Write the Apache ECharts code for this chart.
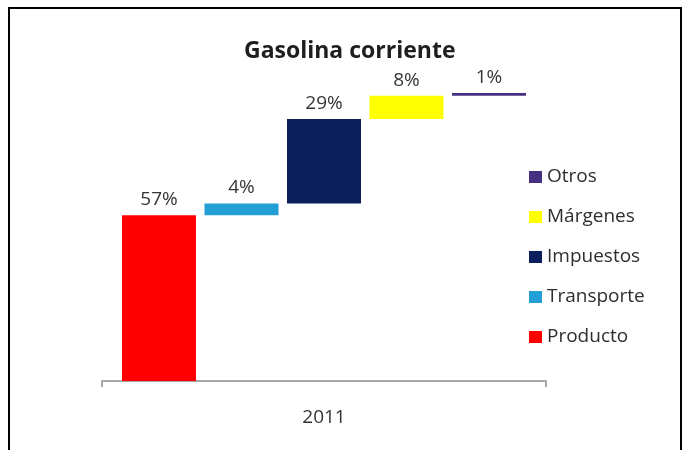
<!DOCTYPE html>
<html>
<head>
<meta charset="utf-8">
<title>Gasolina corriente</title>
<script src="https://cdn.jsdelivr.net/npm/echarts@6/dist/echarts.min.js"></script>
<style>
  html, body { margin: 0; padding: 0; background: #ffffff; }
  #chart { width: 689px; height: 450px; }
</style>
</head>
<body>
<div id="chart"></div>
<script>
// Price breakdown of regular gasoline (2011), drawn as a floating waterfall.
const categories = ['2011'];
const componentNames = ['Producto', 'Transporte', 'Impuestos', 'Márgenes', 'Otros'];
const componentShares = [57, 4, 29, 8, 1];
const componentColors = ['#ff0000', '#22a0d6', '#0b1f5c', '#ffff00', '#44307f'];

const FONT = '"Open Sans", "DejaVu Sans", sans-serif';

// Each component floats on top of the running total of the ones before it.
const offsets = [];
let running = 0;
for (const v of componentShares) {
  offsets.push(running);
  running += v;
}

const series = [];
componentNames.forEach((name, i) => {
  const stackId = 'step' + i;
  series.push({
    name: name + ' (base)',
    type: 'bar',
    stack: stackId,
    barWidth: 74,
    barGap: '11.5%',
    silent: true,
    itemStyle: { color: 'transparent' },
    data: [offsets[i]]
  });
  series.push({
    name: name,
    type: 'bar',
    stack: stackId,
    barWidth: 74,
    barGap: '11.5%',
    itemStyle: { color: componentColors[i] },
    label: {
      show: true,
      position: 'top',
      distance: 6,
      formatter: '{c}%',
      fontFamily: FONT,
      fontSize: 19,
      color: '#353535'
    },
    data: [componentShares[i]]
  });
});

const chart = echarts.init(document.getElementById('chart'), null, { renderer: 'canvas' });
chart.setOption({
  animation: false,
  backgroundColor: '#ffffff',
  title: {
    text: 'Gasolina corriente',
    left: 244,
    top: 40,
    padding: 0,
    textStyle: { fontFamily: FONT, fontSize: 23, fontWeight: 'bold', color: '#1e1e1e' }
  },
  legend: {
    orient: 'vertical',
    left: 529,
    top: 167,
    padding: 0,
    icon: 'rect',
    itemWidth: 13,
    itemHeight: 12,
    itemGap: 20,
    data: componentNames.slice().reverse(),
    textStyle: { fontFamily: FONT, fontSize: 19, lineHeight: 20, color: '#2e2e2e', padding: [0, 0, 0, 0] }
  },
  grid: { left: 102, right: 143, top: 90, bottom: 69, containLabel: false },
  xAxis: {
    type: 'category',
    data: categories,
    axisLine: { lineStyle: { color: '#a8a8a8', width: 2 } },
    axisTick: { show: true, length: 6, lineStyle: { color: '#a8a8a8', width: 2 } },
    axisLabel: { margin: 27, fontFamily: FONT, fontSize: 19, color: '#333333' }
  },
  yAxis: { type: 'value', min: 0, max: 100, show: false },
  graphic: [{
    type: 'rect',
    silent: true,
    shape: { x: 9, y: 8, width: 672, height: 500 },
    style: { fill: 'none', stroke: '#000000', lineWidth: 2 }
  }],
  series: series
});
</script>
</body>
</html>
